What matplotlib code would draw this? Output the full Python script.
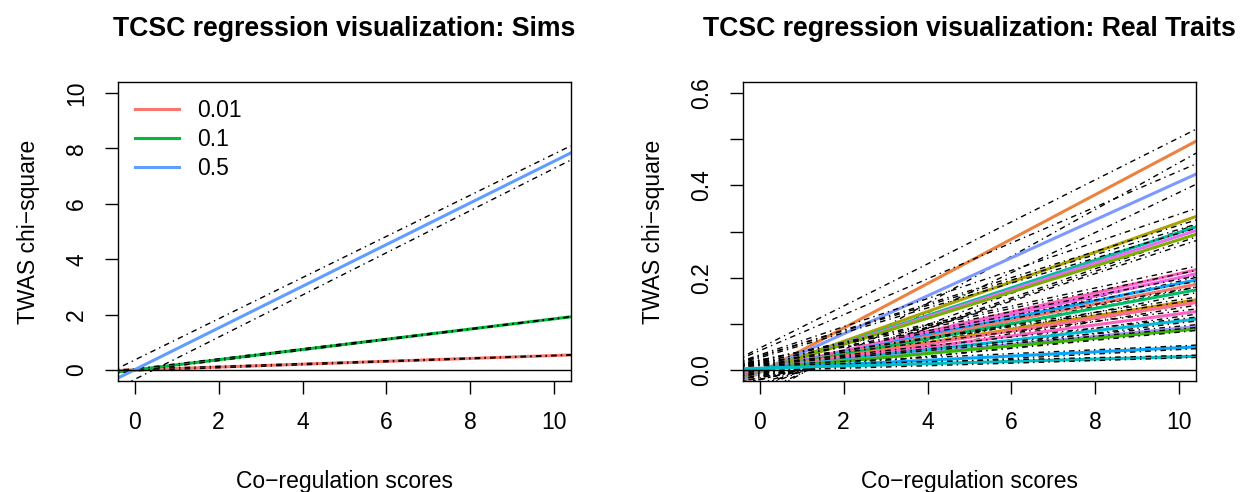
import matplotlib
matplotlib.use("Agg")
import matplotlib.pyplot as plt
import numpy as np

plt.rcParams['font.family'] = ['Liberation Sans', 'DejaVu Sans']

# ---- left panel: simulations (intercept, slope, CI half-widths) ----
sim_labels = ["0.01", "0.1", "0.5"]
sim_colors = ["#F8766D", "#00BA38", "#619CFF"]
sim_intercept = [0.0, 0.0, 0.01]
sim_slope = [0.052, 0.1846, 0.753]
sim_int_err = [0.03, 0.04, 0.35]
sim_slope_err = [0.002, 0.003, 0.009]

# ---- right panel: real traits ----
trait_colors = ["#ED813E", "#7D99FF", "#ABA300", "#00BFA0", "#E76BF3", "#7CAE00",
                "#FF62BC", "#F564E3", "#00A9FF", "#F8766D", "#00BE67", "#CD9600",
                "#FF6C91", "#FF61C3", "#00BCD8", "#A58AFF", "#39B600", "#00A9FF",
                "#00BFC4"]
trait_intercept = [-0.0057, -0.0042, -0.0024, -0.0020, -0.0018, -0.0017,
                   -0.0002, 0.0, 0.0003, 0.0004, 0.0007, 0.0011,
                   0.0012, 0.0016, 0.0019, 0.0022, 0.0023, 0.0031, 0.0035]
trait_slope = [0.0482, 0.0412, 0.0322, 0.0300, 0.0292, 0.0284,
               0.0209, 0.0200, 0.0187, 0.0178, 0.0166, 0.0145,
               0.0139, 0.0120, 0.0104, 0.0088, 0.0083, 0.0045, 0.0025]
trait_int_err = [0.053, 0.046, 0.035, 0.0315, 0.0315, 0.028,
                 0.021, 0.021, 0.021, 0.0175, 0.0175, 0.014,
                 0.014, 0.014, 0.0105, 0.0105, 0.0084, 0.007, 0.0056]
trait_slope_err = [0.0026, 0.0023, 0.0017, 0.0016, 0.0017, 0.0014,
                   0.0013, 0.0013, 0.0012, 0.0011, 0.0011, 0.0008,
                   0.0008, 0.0008, 0.0006, 0.0006, 0.0005, 0.0003, 0.0003]

xticks = [0, 2, 4, 6, 8, 10]
sim_yticks = [0, 2, 4, 6, 8, 10]
trait_yticks = [0.0, 0.1, 0.2, 0.3, 0.4, 0.5, 0.6]
trait_ylabels = ["0.0", "", "0.2", "", "0.4", "", "0.6"]

dotdash = (0, (1, 3, 4, 3))

fig = plt.figure(figsize=(12.42, 4.92), dpi=100)
ax1 = fig.add_axes([0.095, 0.2256, 0.3647, 0.6077])
ax2 = fig.add_axes([0.5982, 0.2256, 0.3647, 0.6077])


def draw_fits(ax, intercepts, slopes, ierr, serr, colors, labels=None):
    for i in range(len(slopes)):
        lab = labels[i] if labels else None
        ax.axline((0, intercepts[i]), slope=slopes[i], color=colors[i], lw=2.2, label=lab)
        ax.axline((0, intercepts[i] + ierr[i]), slope=slopes[i] - serr[i],
                  color='black', lw=1.0, linestyle=dotdash)
        ax.axline((0, intercepts[i] - ierr[i]), slope=slopes[i] + serr[i],
                  color='black', lw=1.0, linestyle=dotdash)


draw_fits(ax1, sim_intercept, sim_slope, sim_int_err, sim_slope_err, sim_colors, sim_labels)
draw_fits(ax2, trait_intercept, trait_slope, trait_int_err, trait_slope_err, trait_colors)

for ax, title, ylim in [(ax1, "TCSC regression visualization: Sims", (0, 10)),
                        (ax2, "TCSC regression visualization: Real Traits", (0, 0.6))]:
    ax.axhline(0, color='black', lw=1.0)
    pad = 0.04 * (ylim[1] - ylim[0])
    ax.set_ylim(ylim[0] - pad, ylim[1] + pad)
    ax.set_xlim(-0.4, 10.4)
    ax.set_xticks(xticks)
    ax.set_title(title, fontsize=19.2, fontweight='bold', pad=33)
    ax.set_xlabel("Co\u2212regulation scores", fontsize=16.5, labelpad=26)
    ax.set_ylabel("TWAS chi\u2212square", fontsize=16.5, labelpad=18)
    ax.tick_params(axis='both', labelsize=16.5, length=9.5, width=1.0, pad=12)
    for sp in ax.spines.values():
        sp.set_linewidth(1.0)

ax1.set_yticks(sim_yticks)
for lab in ax1.get_yticklabels():
    lab.set_rotation(90)
    lab.set_va('center')
ax2.set_yticks(trait_yticks)
ax2.set_yticklabels(trait_ylabels, rotation=90, va='center')

leg = ax1.legend(loc='upper left', frameon=False, fontsize=16.5, handlelength=1.9,
                 handletextpad=0.8, labelspacing=0.25, borderaxespad=0.35,
                 bbox_to_anchor=(0.0, 1.0))

fig.savefig("out.png", dpi=100)
